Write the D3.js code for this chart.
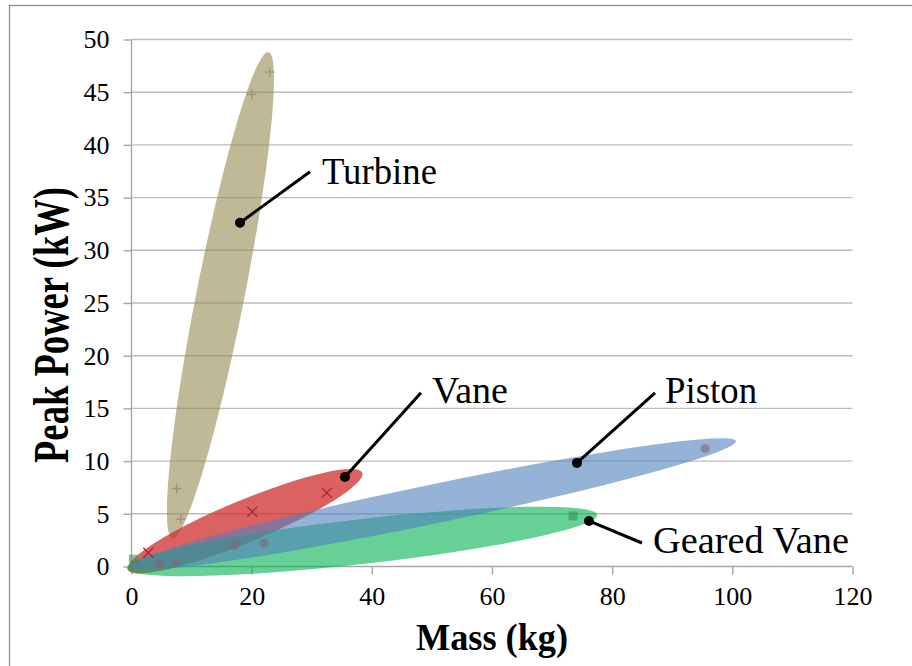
<!DOCTYPE html>
<html>
<head>
<meta charset="utf-8">
<script src="https://cdn.jsdelivr.net/npm/d3@7"></script>
<style>
  html, body { margin: 0; padding: 0; background: #fff; }
  svg { display: block; }
  text { font-family: "Liberation Serif", "Times New Roman", serif; fill: #000; }
</style>
</head>
<body>
<svg id="chart" width="912" height="666"></svg>
<script>
// ---------- data ----------
const xTicks = [0, 20, 40, 60, 80, 100, 120];
const yTicks = [0, 5, 10, 15, 20, 25, 30, 35, 40, 45, 50];
const xTitle = "Mass (kg)";
const yTitle = "Peak Power (kW)";

const groups = ["Turbine", "Vane", "Geared Vane", "Piston"];
// ellipse tips in data units [mass, power] and minor/major ratio
const ellipseTipA = [[6.8, 2.7], [-0.6, -0.3], [-0.75, -0.15], [-0.25, -0.05]];
const ellipseTipB = [[22.8, 48.8], [38.4, 8.9], [77.5, 4.9], [100.6, 11.9]];
const ellipseRatio = [0.097, 0.166, 0.095, 0.063];

// series markers
const turbineMass  = [7.5, 8.2, 20.0, 23.0];
const turbinePower = [7.4, 4.5, 44.8, 46.9];
const vaneMass     = [2.8, 20.1, 32.5];
const vanePower    = [1.3, 5.2, 7.0];
const pistonMass   = [4.7, 7.4, 17.2, 22.1, 95.5];
const pistonPower  = [0.25, 0.35, 2.0, 2.2, 11.2];
const gearedMass   = [0.3, 73.5];
const gearedPower  = [0.7, 4.8];

// callouts: anchor dot, line end, label position (data units)
const calloutLabel = ["Turbine", "Vane", "Piston", "Geared Vane"];
const calloutDot   = [[18.06, 32.62], [35.53, 8.50], [74.14, 9.83], [76.14, 4.32]];
const calloutEnd   = [[29.71, 37.46], [48.18, 16.48], [87.13, 16.48], [84.96, 2.23]];
const calloutText  = [[31.7, 36.33], [50.0, 15.53], [88.8, 15.53], [86.8, 1.28]];

// ---------- chart ----------
const FONT = '"Liberation Serif", "Times New Roman", serif';
const svg = d3.select("#chart");
const x = d3.scaleLinear().domain([0, 120]).range([131.5, 852.5]);
const y = d3.scaleLinear().domain([0, 50]).range([566.5, 39.5]);

// outer frame
svg.append("rect").attr("x", 9.5).attr("y", 5.5).attr("width", 920).attr("height", 700)
  .attr("fill", "none").attr("stroke", "#8c8c8c").attr("stroke-width", 1.3);

const gridColor = "#bdbdbd";
svg.append("g").selectAll("line").data(yTicks.filter(d => d > 0)).join("line")
  .attr("x1", x(0)).attr("x2", x(120))
  .attr("y1", d => y(d)).attr("y2", d => y(d))
  .attr("stroke", gridColor).attr("stroke-width", 1.4);

const yAxis = d3.axisLeft(y).tickValues(yTicks).tickSize(8).tickPadding(14);
const gy = svg.append("g").attr("transform", `translate(${x(0)},0)`).call(yAxis);
const xAxis = d3.axisBottom(x).tickValues(xTicks).tickSize(8).tickPadding(14);
const gx = svg.append("g").attr("transform", `translate(0,${y(0)})`).call(xAxis);

[gx, gy].forEach(g => {
  g.attr("font-family", FONT).attr("font-size", 26);
  g.select(".domain").attr("stroke", "#a6a6a6").attr("stroke-width", 1.4);
  g.selectAll(".tick line").attr("stroke", "#a6a6a6").attr("stroke-width", 1.4);
  g.selectAll(".tick text")
    .attr("font-family", FONT).style("font-family", FONT)
    .style("font-size", "26px").attr("fill", "#000");
});
gy.select(".domain").attr("d", `M0,${y(0)}V${y(50)}`);
gx.select(".domain").attr("d", `M${x(0)},0H${x(120)}`);
gx.selectAll(".tick text").attr("dy", "0.62em");

// ellipses
const ellipseFill = ["#948A54", "#d02a2a", "#00B050", "#4F81BD"];
const ellipseOpacity = [0.6, 0.74, 0.6, 0.6];
const ellData = groups.map((g, i) => {
  const ax = x(ellipseTipA[i][0]), ay = y(ellipseTipA[i][1]);
  const bx = x(ellipseTipB[i][0]), by = y(ellipseTipB[i][1]);
  const len = Math.hypot(bx - ax, by - ay);
  return {
    cx: (ax + bx) / 2, cy: (ay + by) / 2,
    rx: len / 2, ry: len / 2 * ellipseRatio[i],
    ang: Math.atan2(by - ay, bx - ax) * 180 / Math.PI,
    fill: ellipseFill[i], op: ellipseOpacity[i]
  };
});
svg.append("g").selectAll("ellipse").data(ellData).join("ellipse")
  .attr("cx", 0).attr("cy", 0)
  .attr("rx", d => d.rx).attr("ry", d => d.ry)
  .attr("transform", d => `translate(${d.cx},${d.cy}) rotate(${d.ang})`)
  .attr("fill", d => d.fill).attr("fill-opacity", d => d.op);

// markers
const mk = svg.append("g");
const plus = d3.range(turbineMass.length).map(i => [turbineMass[i], turbinePower[i]]);
mk.selectAll(".plus").data(plus).join("path").attr("class", "plus")
  .attr("d", d => `M${x(d[0]) - 5},${y(d[1])}h10M${x(d[0])},${y(d[1]) - 5}v10`)
  .attr("stroke", "#9a957a").attr("stroke-width", 1.3).attr("fill", "none");
const cross = d3.range(vaneMass.length).map(i => [vaneMass[i], vanePower[i]]);
mk.selectAll(".cross").data(cross).join("path").attr("class", "cross")
  .attr("d", d => `M${x(d[0]) - 5},${y(d[1]) - 5}l10,10M${x(d[0]) - 5},${y(d[1]) + 5}l10,-10`)
  .attr("stroke", "#a8243f").attr("stroke-width", 1.3).attr("fill", "none");
const circ = d3.range(pistonMass.length).map(i => [pistonMass[i], pistonPower[i]]);
mk.selectAll(".circ").data(circ).join("circle").attr("class", "circ")
  .attr("cx", d => x(d[0])).attr("cy", d => y(d[1])).attr("r", 4.5)
  .attr("fill", "#87646e").attr("fill-opacity", 0.6);
const sq = d3.range(gearedMass.length).map(i => [gearedMass[i], gearedPower[i]]);
mk.selectAll(".sq").data(sq).join("rect").attr("class", "sq")
  .attr("x", d => x(d[0]) - 4.5).attr("y", d => y(d[1]) - 4.5)
  .attr("width", 9).attr("height", 9)
  .attr("fill", "#3d8a55").attr("fill-opacity", 0.55);

// callouts
const labelWidth = [115, 76, 92, 196];
const co = svg.append("g");
calloutLabel.forEach((lab, i) => {
  co.append("line")
    .attr("x1", x(calloutDot[i][0])).attr("y1", y(calloutDot[i][1]))
    .attr("x2", x(calloutEnd[i][0])).attr("y2", y(calloutEnd[i][1]))
    .attr("stroke", "#000").attr("stroke-width", 3);
  co.append("circle")
    .attr("cx", x(calloutDot[i][0])).attr("cy", y(calloutDot[i][1])).attr("r", 5)
    .attr("fill", "#000");
  co.append("text")
    .attr("x", x(calloutText[i][0])).attr("y", y(calloutText[i][1]))
    .attr("textLength", labelWidth[i]).attr("lengthAdjust", "spacingAndGlyphs")
    .style("font-size", "38px").text(lab);
});

// axis titles
svg.append("text")
  .attr("x", (x(0) + x(120)) / 2).attr("y", 650)
  .attr("text-anchor", "middle")
  .attr("textLength", 152).attr("lengthAdjust", "spacingAndGlyphs")
  .style("font-size", "38px").style("font-weight", "bold")
  .text(xTitle);
svg.append("text")
  .attr("transform", `translate(68,${(y(0) + y(50)) / 2 + 22}) rotate(-90)`)
  .attr("text-anchor", "middle")
  .attr("textLength", 276).attr("lengthAdjust", "spacingAndGlyphs")
  .style("font-size", "50px").style("font-weight", "bold")
  .text(yTitle);
</script>
</body>
</html>
